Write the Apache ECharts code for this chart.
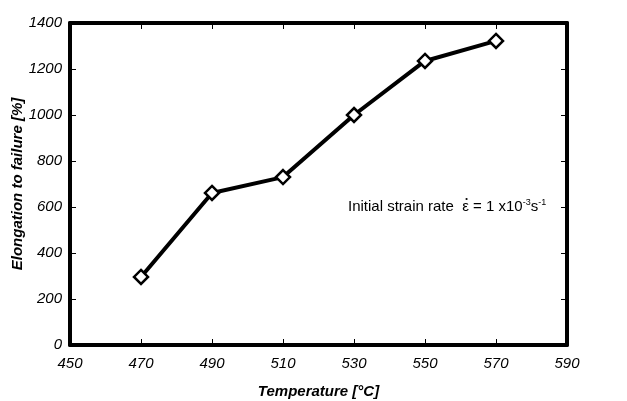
<!DOCTYPE html>
<html>
<head>
<meta charset="utf-8">
<script src="https://cdn.jsdelivr.net/npm/echarts@6/dist/echarts.min.js"></script>
<style>html,body{margin:0;padding:0;background:#fff}#c{width:627px;height:401px}</style>
</head>
<body>
<div id="c"></div>
<script>
const temperatures = [470, 490, 510, 530, 550, 570];
const elongation = [296, 661, 730, 1000, 1235, 1322];
const xName = 'Temperature [\u00B0C]';
const yName = 'Elongation to failure [%]';

const chart = echarts.init(document.getElementById('c'));
const font = '"Liberation Sans", Arial, sans-serif';
const axisLine = {show: true, onZero: false, lineStyle: {color: '#000', width: 4}};
const tick = {show: true, inside: true, length: 6, lineStyle: {color: '#000', width: 1}};

const noteLeft = 348, noteTop = 198, noteSize = 15;
const prefix = 'Initial strain rate  ';
const ctx = document.createElement('canvas').getContext('2d');
ctx.font = noteSize + 'px "Liberation Sans"';
const dotX = noteLeft + ctx.measureText(prefix).width + ctx.measureText('\u03B5').width / 2 + 1;

chart.setOption({
  animation: false,
  backgroundColor: '#fff',
  grid: {left: 70, right: 60, top: 23, bottom: 56, containLabel: false, outerBoundsMode: 'none'},
  xAxis: [{
    type: 'value', min: 450, max: 590, interval: 20,
    axisLine, axisTick: tick, splitLine: {show: false},
    axisLabel: {fontFamily: font, fontStyle: 'italic', fontSize: 15, color: '#000', margin: 11},
    name: xName, nameLocation: 'middle', nameGap: 39,
    nameTextStyle: {fontFamily: font, fontStyle: 'italic', fontWeight: 'bold', fontSize: 15, color: '#000'}
  }, {
    type: 'value', position: 'top', min: 450, max: 590, interval: 20,
    axisLine, axisTick: tick, axisLabel: {show: false}, splitLine: {show: false}
  }],
  yAxis: [{
    type: 'value', min: 0, max: 1400, interval: 200,
    axisLine, axisTick: tick, splitLine: {show: false},
    axisLabel: {fontFamily: font, fontStyle: 'italic', fontSize: 15, color: '#000', margin: 8,
      formatter: v => String(v)},
    name: yName, nameLocation: 'middle', nameGap: 45, nameRotate: 90, nameMoveOverlap: false,
    nameTextStyle: {fontFamily: font, fontStyle: 'italic', fontWeight: 'bold', fontSize: 15, color: '#000'}
  }, {
    type: 'value', position: 'right', min: 0, max: 1400, interval: 200,
    axisLine, axisTick: tick, axisLabel: {show: false}, splitLine: {show: false}
  }],
  series: [{
    type: 'line',
    data: temperatures.map((t, i) => [t, elongation[i]]),
    symbol: 'diamond', symbolSize: [14, 14],
    lineStyle: {color: '#000', width: 4},
    itemStyle: {color: '#fff', borderColor: '#000', borderWidth: 2.5},
    z: 5
  }],
  graphic: [{
    type: 'text', left: noteLeft, top: noteTop,
    style: {
      rich: {
        n: {fontFamily: font, fontSize: noteSize, fill: '#000'},
        s: {fontFamily: font, fontSize: 9, fill: '#000', verticalAlign: 'top', padding: [0,0,8,0]}
      },
      text: '{n|' + prefix + '\u03B5 = 1 x10}{s|-3}{n|s}{s|-1}'
    }
  }, {
    type: 'circle', shape: {cx: dotX, cy: noteTop + 1, r: 1.1}, style: {fill: '#000'}
  }]
});
</script>
</body>
</html>
